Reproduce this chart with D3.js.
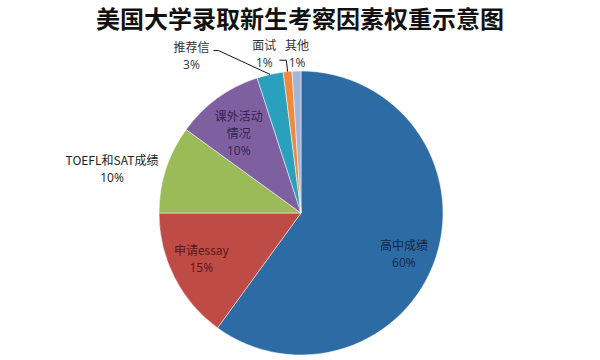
<!DOCTYPE html>
<html><head><meta charset="utf-8">
<script src="https://cdn.jsdelivr.net/npm/d3@7"></script>
<style>body{margin:0;background:#fff}svg{display:block}</style>
</head><body>
<svg id="c" width="600" height="360"></svg>
<script>
const title = "美国大学录取新生考察因素权重示意图";
const categories = ["高中成绩", "申请essay", "TOEFL和SAT成绩", "课外活动情况", "推荐信", "面试", "其他"];
const labelLines = [["高中成绩"], ["申请essay"], ["TOEFL和SAT成绩"], ["课外活动", "情况"], ["推荐信"], ["面试"], ["其他"]];
const values = [60, 15, 10, 10, 3, 1, 1];
const pctLabels = ["60%", "15%", "10%", "10%", "3%", "1%", "1%"];

const colors = ["#2D6BA5", "#BF4B47", "#9BBB59", "#7E60A1", "#2AA0BC", "#EE8A3E", "#A3B6D9"];
const textColors = ["#10284A", "#5E1514", "#222", "#33244F", "#333", "#333", "#333"];
// label placement: [radius, angle in degrees clockwise from 12 o'clock]
const labelPolar = [[111, 112], [110, 245], [194, 283], [101, 322], [191, 325], [163, 347], [159, 358.6]];
const leaderSlices = [4, 5];

const svg = d3.select("#c");
const cx = 301, cy = 213, R = 142;

svg.append("text").attr("x", 300).attr("y", 19.8).attr("dy", "0.35em").attr("text-anchor", "middle")
  .attr("font-family", "Noto Sans CJK SC").attr("font-weight", "bold").attr("font-size", 24)
  .attr("fill", "#111").text(title);

const g = svg.append("g").attr("transform", `translate(${cx},${cy})`);
const pie = d3.pie().sort(null).value(d => d)(values);
const arc = d3.arc().innerRadius(0).outerRadius(R);

g.selectAll("path.s").data(pie).join("path").attr("class", "s")
  .attr("d", arc).attr("fill", (d, i) => colors[i])
  .attr("stroke", "#fff").attr("stroke-width", 0.5);

const pol = (r, deg) => { const a = deg * Math.PI / 180; return [r * Math.sin(a), -r * Math.cos(a)]; };

// leader lines
leaderSlices.forEach(i => {
  const d = pie[i];
  const mid = (d.startAngle + d.endAngle) / 2;
  const end = [R * Math.sin(mid), -R * Math.cos(mid)];
  const lp = pol(labelPolar[i][0], labelPolar[i][1]);
  let pts;
  if (i === 4) {
    const s = [lp[0] + 22, lp[1] - 6];
    pts = [s, [s[0] + 5, s[1]], end];
  } else {
    const s = [lp[0] + 15, lp[1] + 6];
    pts = [s, [s[0] + 7, s[1]], end];
  }
  g.append("path").attr("d", d3.line()(pts)).attr("fill", "none")
    .attr("stroke", "#111").attr("stroke-width", 1);
});

pie.forEach((d, i) => {
  const [x, y] = pol(labelPolar[i][0], labelPolar[i][1]);
  const lines = labelLines[i].concat([pctLabels[i]]);
  const lh = 17;
  const y0 = y - (lines.length - 1) * lh / 2;
  const t = g.append("text").attr("text-anchor", "middle").attr("fill", textColors[i])
    .attr("font-size", 12).attr("font-family", "Noto Sans CJK SC");
  lines.forEach((ln, k) => {
    t.append("tspan").attr("x", x).attr("y", y0 + k * lh).attr("dy", "0.35em")
      .attr("font-family", k === lines.length - 1 ? "Open Sans" : "Noto Sans CJK SC")
      .text(ln);
  });
});
</script>
</body></html>
